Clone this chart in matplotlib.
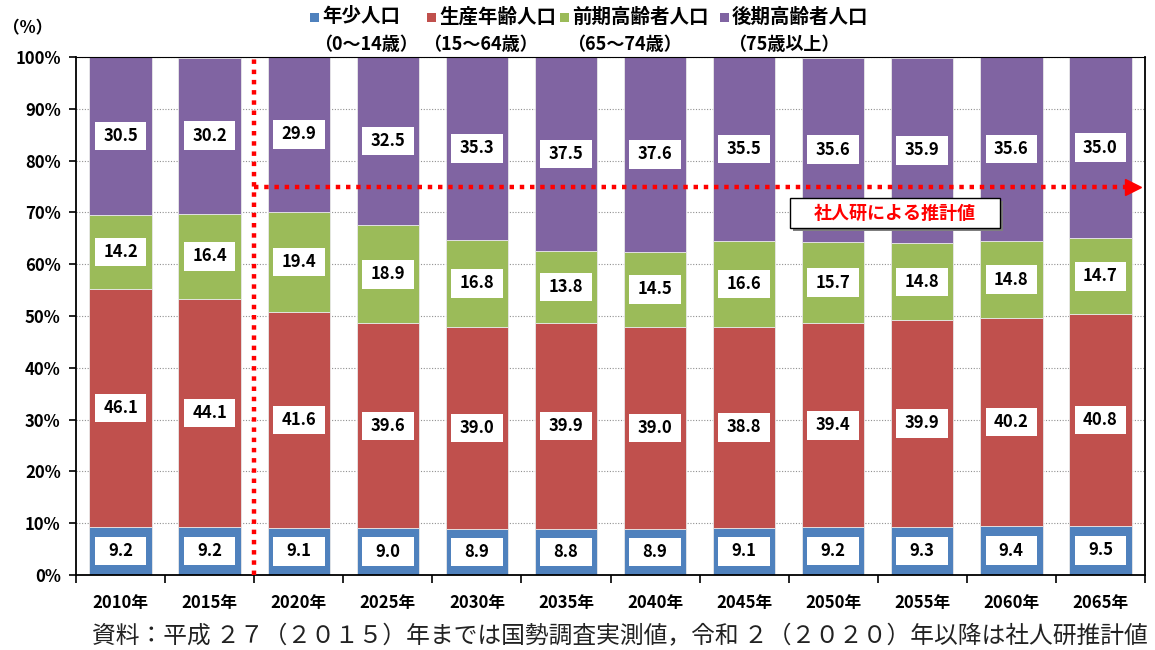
import matplotlib
matplotlib.use("Agg")
import matplotlib.pyplot as plt
from matplotlib.patches import Rectangle
import numpy as np

plt.rcParams['font.family'] = ['Noto Sans CJK JP', 'DejaVu Sans']

years = ["2010年", "2015年", "2020年", "2025年", "2030年", "2035年",
         "2040年", "2045年", "2050年", "2055年", "2060年", "2065年"]
young = [9.2, 9.2, 9.1, 9.0, 8.9, 8.8, 8.9, 9.1, 9.2, 9.3, 9.4, 9.5]
working = [46.1, 44.1, 41.6, 39.6, 39.0, 39.9, 39.0, 38.8, 39.4, 39.9, 40.2, 40.8]
early_old = [14.2, 16.4, 19.4, 18.9, 16.8, 13.8, 14.5, 16.6, 15.7, 14.8, 14.8, 14.7]
late_old = [30.5, 30.2, 29.9, 32.5, 35.3, 37.5, 37.6, 35.5, 35.6, 35.9, 35.6, 35.0]
series_names = ["年少人口", "生産年齢人口", "前期高齢者人口", "後期高齢者人口"]
series_sub = ["（0～14歳）", "（15～64歳）", "（65～74歳）", "（75歳以上）"]
colors = ["#4F81BD", "#C0504D", "#9BBB59", "#8064A2"]

fig = plt.figure(figsize=(11.55, 6.5), dpi=100)
ax = fig.add_axes([76/1155, 75/650, (1145-76)/1155, (575-57)/650])

x = np.arange(len(years))
series = [young, working, early_old, late_old]
bottom = np.zeros(len(years))
bw = 0.70
for vals, c in zip(series, colors):
    vals = np.array(vals)
    ax.bar(x, vals, bw, bottom=bottom, color=c, edgecolor="#e8e8e8", linewidth=0.6, zorder=2)
    for xi, b, v in zip(x, bottom, vals):
        cy = b + v / 2
        ax.add_patch(Rectangle((xi - 0.29, cy - 2.75), 0.58, 5.5, facecolor="white",
                               edgecolor="none", zorder=3))
        ax.text(xi, cy, f"{v:.1f}", ha="center", va="center", fontsize=12,
                fontweight="bold", zorder=4)
    bottom = bottom + vals

ax.set_xlim(-0.5, len(years) - 0.5)
ax.set_ylim(0, 100)
ax.set_yticks(np.arange(0, 101, 10))
ax.set_yticklabels([f"{v}%" for v in range(0, 101, 10)], fontsize=12, fontweight="bold")
ax.yaxis.grid(True, linestyle=(0, (1, 1.5)), color="#909090", linewidth=0.8, zorder=0)
ax.set_axisbelow(True)
ax.tick_params(axis="y", length=5, width=1.2, pad=6)

ax.set_xticks(np.arange(-0.5, len(years), 1.0))
ax.set_xticklabels([])
ax.tick_params(axis="x", which="major", length=6, width=1.2)
ax.set_xticks(x, minor=True)
ax.set_xticklabels(years, minor=True, fontsize=12, fontweight="bold")
ax.tick_params(axis="x", which="minor", length=0, pad=14)

for sp in ax.spines.values():
    sp.set_linewidth(1.3)
    sp.set_color("black")
ax.spines["top"].set_linewidth(0.8)

# projection markers
ax.plot([1.5, 1.5], [0, 100], color="red", linestyle=(0, (1, 1.3)), linewidth=3.2, zorder=5,
        clip_on=False)
ax.plot([1.5, 11.28], [75, 75], color="red", linestyle=(0, (1, 1.3)), linewidth=3.2, zorder=5)
ax.plot([11.37], [75], marker=">", color="red", markersize=11, zorder=5, linestyle="none")

bx, by, bwid, bht = 8.69, 69.9, 2.36, 5.8
ax.add_patch(Rectangle((bx - bwid/2 + 0.035, by - bht/2 - 0.6), bwid, bht,
                       facecolor="#7f7f7f", edgecolor="none", zorder=6))
ax.add_patch(Rectangle((bx - bwid/2, by - bht/2), bwid, bht,
                       facecolor="white", edgecolor="black", linewidth=1.0, zorder=6.5))
ax.text(bx, by, "社人研による推計値", ha="center", va="center", color="red",
        fontsize=13, fontweight="bold", zorder=7)

# legend
fig.text(3/1155, 1 - 28/650, "（%）", fontsize=12, fontweight="bold", ha="left", va="center")
sq_x = [310, 427, 560, 720]
sub_x = [314, 423, 567, 728]
for sx, tx, name, sub, c in zip(sq_x, sub_x, series_names, series_sub, colors):
    fig.patches.append(Rectangle((sx/1155, 1 - 22/650), 9/1155, 9/650, facecolor=c,
                                 edgecolor="none", transform=fig.transFigure, figure=fig))
    fig.text((sx + 12)/1155, 1 - 17/650, name, fontsize=14, fontweight="bold",
             ha="left", va="center")
    fig.text(tx/1155, 1 - 44/650, sub, fontsize=13, fontweight="bold", ha="left", va="center")

fig.text(1148/1155, 1 - 637/650,
         "資料：平成 ２７（２０１５）年までは国勢調査実測値，令和 ２（２０２０）年以降は社人研推計値",
         fontsize=17.1, ha="right", va="center", color="#222222")

fig.savefig("out.png", dpi=100)
